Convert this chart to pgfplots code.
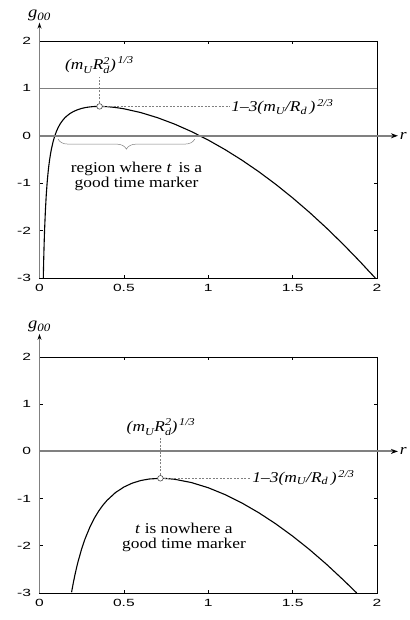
\documentclass[border=0pt]{standalone}
\usepackage{amsmath}
\usepackage{fontspec}
\usepackage{pgfplots}
\pgfplotsset{compat=1.18}
\usetikzlibrary{arrows.meta,decorations.pathreplacing}
\setmainfont{Liberation Serif}[FakeStretch=1.16]
\newfontfamily\tickfont{Liberation Sans}[FakeStretch=1.5]

\newcommand{\ann}{\fontsize{15}{14.5}\selectfont}
\newcommand{\lbA}{$\textit{(m}_{\textit{U}}\textit{R}^{\textit{2}}_{\textit{d}}\textit{)}^{\,\textit{1/3}}$}
\newcommand{\lbB}{\textit{1–3(m}$_{\textit{U}}$\textit{/R}$_{\textit{d}}$\textit{\,)}$^{\,\textit{2/3}}$}
\newcommand{\goo}{{\fontsize{16}{16}\selectfont\textit{g}$_{\textit{00}}$}}

\pgfplotsset{
  panel/.style={
    scale only axis, width=337.5pt, height=237pt,
    anchor=south west,
    xmin=0, xmax=2, ymin=-3, ymax=2,
    xtick={0,0.5,1,1.5,2}, ytick={-3,-2,-1,0,1,2},
    tick align=inside, major tick length=3pt,
    tick style={black, line width=0.6pt},
    axis line style={black, line width=0.8pt},
    tick label style={font=\tickfont\fontsize{10.4}{12}\selectfont},
    /pgf/number format/assume math mode=true,
    xticklabel style={yshift=-3pt},
    yticklabel style={xshift=-5pt},
    clip=false,
  },
  curve/.style={black, line width=1.1pt},
  guide/.style={gray, line width=0.6pt, dash pattern=on 2pt off 1.5pt},
  peak/.style={only marks, mark=*, mark size=2.8pt,
    mark options={fill=white, draw=gray!60!black, line width=0.6pt}},
}

\begin{document}
\begin{tikzpicture}
\useasboundingbox (0,0) rectangle (409pt,620pt);

% upper panel
\begin{axis}[panel, at={(39.5pt,342pt)}]
\addplot[gray, line width=0.6pt] coordinates {(0,1) (2,1)};
\addplot[curve] coordinates {
 (0.0225,-3.00) (0.025,-2.60) (0.0275,-2.274) (0.03,-2.001) (0.035,-1.573)
 (0.04,-1.252) (0.045,-1.002) (0.05,-0.803) (0.055,-0.639) (0.06,-0.504)
 (0.065,-0.389) (0.07,-0.291) (0.08,-0.131) (0.09,-0.008) (0.10,0.090)
 (0.11,0.170) (0.12,0.236) (0.13,0.291) (0.14,0.338) (0.15,0.378)
 (0.16,0.412) (0.18,0.468) (0.20,0.510) (0.225,0.549) (0.25,0.578)
 (0.275,0.597) (0.30,0.610) (0.325,0.6175) (0.356,0.6205) (0.40,0.615)
 (0.45,0.5975) (0.50,0.570) (0.60,0.490) (0.70,0.381) (0.80,0.2475)
 (0.90,0.090) (1.00,-0.090) (1.10,-0.292) (1.20,-0.515) (1.30,-0.759)
 (1.40,-1.024) (1.50,-1.310) (1.60,-1.616) (1.70,-1.943) (1.80,-2.290)
 (1.90,-2.657) (1.95,-2.850) (1.99,-3.00)
};
\addplot[guide] coordinates {(0.356,0.62) (0.356,1.24)};
\addplot[guide] coordinates {(0.356,0.62) (1.13,0.62)};
\addplot[peak] coordinates {(0.356,0.62)};
\draw[gray, line width=1.8pt, -{Stealth[black,length=7pt,width=5pt]}]
  (axis cs:0,0) -- (axis cs:2.124,0)
  node[anchor=west, inner sep=1pt, text=black, font=\ann] {\textit{r}};
\draw[gray, line width=1pt, -{Stealth[black,length=6pt,width=4pt]}]
  (axis cs:0,-3) -- (axis cs:0,2.386)
  node[anchor=south, inner sep=1pt, text=black] {\goo};
\draw[gray, line width=0.5pt, decorate, decoration={brace, mirror, amplitude=10pt}]
  (axis cs:0.11,-0.07) -- (axis cs:0.92,-0.07);
\node[font=\ann] at (axis cs:0.355,1.49) {\lbA};
\node[font=\ann, anchor=west, inner sep=1pt] at (axis cs:1.13,0.60) {\lbB};
\node[font=\ann, align=center] at (axis cs:0.575,-0.86)
  {region where \textit{t}\, is a\\good time marker};
\end{axis}

% lower panel
\begin{axis}[panel, at={(39.5pt,27pt)}, height=236pt]
\addplot[curve] coordinates {
 (0.19,-2.984) (0.20,-2.791) (0.21,-2.616) (0.22,-2.459) (0.23,-2.315)
 (0.25,-2.064) (0.27,-1.852) (0.30,-1.592) (0.325,-1.415) (0.35,-1.268)
 (0.375,-1.143) (0.40,-1.038) (0.45,-0.873) (0.50,-0.755) (0.55,-0.672)
 (0.60,-0.617) (0.65,-0.585) (0.7165,-0.570) (0.75,-0.574) (0.80,-0.590)
 (0.90,-0.660) (1.00,-0.770) (1.10,-0.916) (1.20,-1.094) (1.30,-1.301)
 (1.40,-1.535) (1.50,-1.795) (1.60,-2.080) (1.70,-2.389) (1.80,-2.722)
 (1.88,-3.00)
};
\addplot[guide] coordinates {(0.7165,-0.57) (0.7165,0.305)};
\addplot[guide] coordinates {(0.7165,-0.57) (1.25,-0.57)};
\addplot[peak] coordinates {(0.7165,-0.57)};
\draw[gray, line width=1.8pt, -{Stealth[black,length=7pt,width=5pt]}]
  (axis cs:0,0) -- (axis cs:2.124,0)
  node[anchor=west, inner sep=1pt, text=black, font=\ann] {\textit{r}};
\draw[gray, line width=1pt, -{Stealth[black,length=6pt,width=4pt]}]
  (axis cs:0,-3) -- (axis cs:0,2.49)
  node[anchor=south, inner sep=1pt, text=black] {\goo};
\node[font=\ann] at (axis cs:0.72,0.52) {\lbA};
\node[font=\ann, anchor=west, inner sep=1pt] at (axis cs:1.255,-0.56) {\lbB};
\node[font=\ann, align=center] at (axis cs:0.856,-1.82)
  {\textit{t} is nowhere a\\good time marker};
\end{axis}
\end{tikzpicture}
\end{document}
